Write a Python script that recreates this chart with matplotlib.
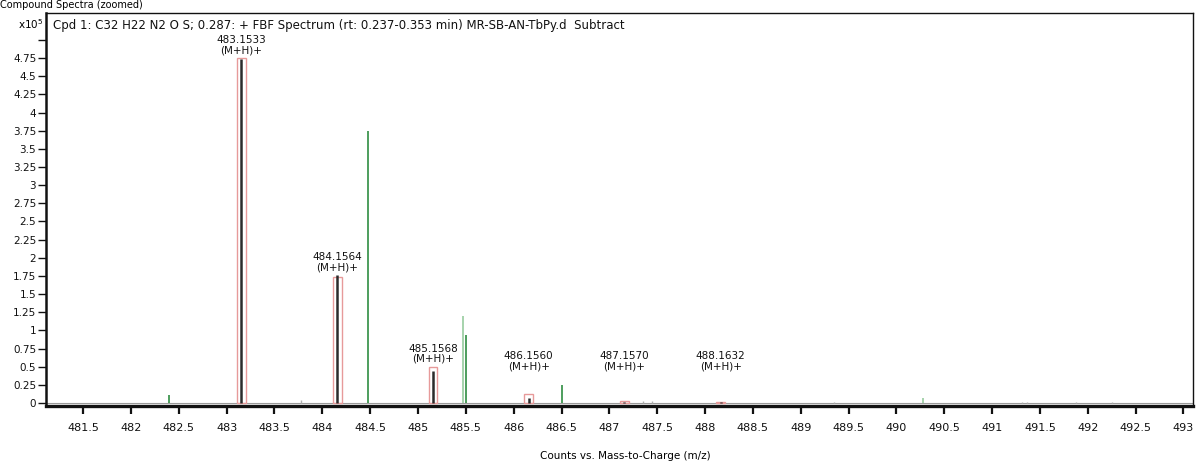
import matplotlib
matplotlib.use("Agg")
import matplotlib.pyplot as plt
from matplotlib.patches import Rectangle

# Matched isotope peaks: observed m/z, measured and predicted abundances (x10^5 counts)
iso_mz = [483.1533, 484.1564, 485.1568, 486.1560, 487.1570, 488.1632]
iso_observed = [4.74, 1.76, 0.44, 0.07, 0.02, 0.01]
iso_predicted = [4.75, 1.73, 0.50, 0.12, 0.03, 0.02]
iso_labels = ["483.1533", "484.1564", "485.1568", "486.1560", "487.1570", "488.1632"]
ion_label = "(M+H)+"

# Other ions in the spectrum (x10^5 counts)
other_mz = [482.40, 484.48, 485.50, 486.50]
other_counts = [0.11, 3.75, 0.94, 0.25]
faint_mz = [485.475, 490.28]
faint_counts = [1.20, 0.07]
noise_mz = [483.78, 487.35, 487.45, 489.35, 491.31, 491.37, 491.88, 492.25]
noise_counts = [0.04, 0.03, 0.03, 0.02, 0.02, 0.02, 0.02, 0.02]

x_ticks = [481.5 + 0.5 * i for i in range(24)]
y_ticks = [0.25 * i for i in range(21)]
y_ticklabels = ["0"] + [f"{v:g}" for v in y_ticks[1:-1]] + [""]

title = ("Cpd 1: C32 H22 N2 O S; 0.287: + FBF Spectrum (rt: 0.237-0.353 min) "
         "MR-SB-AN-TbPy.d  Subtract")

plt.rcParams["font.family"] = ["DejaVu Sans"]

W, H = 1196, 468
fig = plt.figure(figsize=(W / 100, H / 100), dpi=100)
ax = fig.add_axes([46 / W, (H - 406) / H, (1193 - 46) / W, (406 - 13) / H])

ax.set_xlim(481.112, 493.10)
ax.set_ylim(-0.04, 5.37)

# predicted isotope boxes
box_w = 0.09
for mz, pred in zip(iso_mz, iso_predicted):
    ax.add_patch(Rectangle((mz - box_w / 2, 0), box_w, pred, fill=False,
                           edgecolor="#e79a9a", linewidth=1.0, zorder=2))

# observed isotope sticks
ax.vlines(iso_mz, 0, iso_observed, color="#2b2b2b", linewidth=1.8, zorder=3)

# other ions
ax.vlines(other_mz, 0, other_counts, color="#3f9650", linewidth=1.3, zorder=3)
ax.vlines(faint_mz, 0, faint_counts, color="#9fd0a6", linewidth=1.3, zorder=2)
ax.vlines(noise_mz, 0, noise_counts, color="#b0b0b0", linewidth=1.0, zorder=2)

# peak annotations
for mz, obs, pred, lab in zip(iso_mz, iso_observed, iso_predicted, iso_labels):
    top = max(obs, pred, 0.40)
    ax.annotate(f"{lab}\n{ion_label}", (mz, top), xytext=(0, 2),
                textcoords="offset points", ha="center", va="bottom",
                fontsize=7.5, linespacing=1.0, color="#111111")

ax.axhline(0, color="#9a9a9a", linewidth=0.8, zorder=1)

ax.set_xticks(x_ticks)
ax.set_xticklabels([f"{v:g}" for v in x_ticks], fontsize=8)
ax.set_yticks(y_ticks)
ax.set_yticklabels(y_ticklabels, fontsize=7.5)
ax.tick_params(axis="x", direction="out", length=6, width=1.6, pad=6, colors="#111111")
ax.tick_params(axis="y", direction="out", length=6, width=1.0, pad=1, colors="#111111")

ax.spines["left"].set_linewidth(1.8)
ax.spines["bottom"].set_linewidth(2.4)
ax.spines["top"].set_linewidth(1.0)
ax.spines["right"].set_linewidth(1.0)
for s in ax.spines.values():
    s.set_color("#111111")

ax.text(0.006, 0.985, title, transform=ax.transAxes, ha="left", va="top",
        fontsize=8.5, color="#111111")

fig.text(18 / W, 1 - 24 / H, r"x10$^5$", ha="left", va="center", fontsize=7.5)
fig.text(0.0, 1.0, "Compound Spectra (zoomed)", ha="left", va="top", fontsize=7)
fig.text(625 / W, 1 - 456 / H, "Counts vs. Mass-to-Charge (m/z)",
         ha="center", va="center", fontsize=7.5)

fig.savefig("out.png", dpi=100)
